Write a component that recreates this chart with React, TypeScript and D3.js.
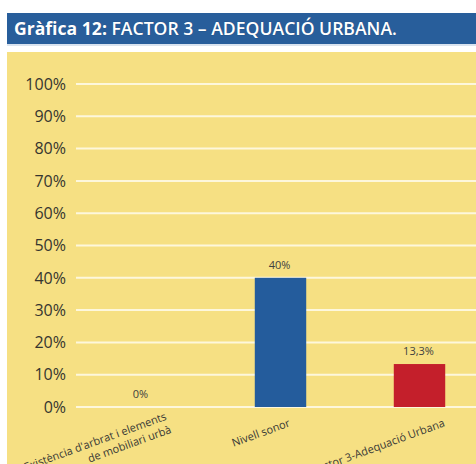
import React, { useEffect, useRef } from "react";
import * as d3 from "d3";

const categories: string[][] = [
  ["Existència d'arbrat i elements", "de mobiliari urbà"],
  ["Nivell sonor"],
  ["Factor 3-Adequació Urbana"],
];
const values: number[] = [0, 40, 13.3];
const barColors: string[] = ["#245c9c", "#245c9c", "#c41f2b"];
const yTicks: number[] = [0, 10, 20, 30, 40, 50, 60, 70, 80, 90, 100];
const titleBold = "Gràfica 12:";
const titleRest = " FACTOR 3 – ADEQUACIÓ URBANA.";

const W = 476;
const H = 464;

const fmtVal = (v: number) =>
  (Number.isInteger(v) ? String(v) : v.toFixed(1).replace(".", ",")) + "%";

export default function App() {
  const ref = useRef<SVGSVGElement | null>(null);

  useEffect(() => {
    const svg = d3.select(ref.current);
    svg.selectAll("*").remove();
    const font = "'Open Sans', 'Noto Sans', sans-serif";

    const panel = { x: 7, y: 52, w: W - 7, h: H - 52 };
    svg
      .append("defs")
      .append("clipPath")
      .attr("id", "pclip")
      .append("rect")
      .attr("x", panel.x)
      .attr("y", panel.y)
      .attr("width", panel.w)
      .attr("height", panel.h);

    // title bar
    svg.append("rect").attr("x", 7).attr("y", 13).attr("width", W - 7).attr("height", 31).attr("fill", "#285e9b");
    svg.append("rect").attr("x", 7).attr("y", 44).attr("width", W - 7).attr("height", 2).attr("fill", "#d9e3ef");
    const t = svg
      .append("text")
      .attr("x", 14)
      .attr("y", 35)
      .attr("fill", "#ffffff")
      .attr("font-family", font)
      .attr("font-size", 20)
      .style("paint-order", "stroke")
      .attr("stroke", "#1e4a7c")
      .attr("stroke-width", 0.6);
    t.append("tspan").attr("font-weight", 700).text(titleBold);
    t.append("tspan").attr("font-weight", 600).text(titleRest);
    const tl = (t.node() as SVGTextElement).getComputedTextLength();
    if (tl > 0) t.attr("font-size", (20 * 383) / tl);

    svg.append("rect").attr("x", panel.x).attr("y", panel.y).attr("width", panel.w).attr("height", panel.h).attr("fill", "#f6e083");

    const g = svg.append("g").attr("clip-path", "url(#pclip)");

    const y = d3.scaleLinear().domain([0, 100]).range([407, 84]);
    const x = d3
      .scaleBand<number>()
      .domain(categories.map((_, i) => i))
      .range([72, 489])
      .paddingInner(0.63)
      .paddingOuter(0.315);

    g.selectAll("line.grid")
      .data(yTicks)
      .join("line")
      .attr("x1", 76)
      .attr("x2", W)
      .attr("y1", (d) => y(d))
      .attr("y2", (d) => y(d))
      .attr("stroke", "#fdf7dc")
      .attr("stroke-width", 2);

    g.selectAll("text.tick")
      .data(yTicks)
      .join("text")
      .attr("x", 66)
      .attr("y", (d) => y(d))
      .attr("dy", "0.36em")
      .attr("text-anchor", "end")
      .attr("font-family", font)
      .attr("font-size", 16)
      .attr("fill", "#35352f")
      .text((d) => d + "%");

    g.selectAll("rect.bar")
      .data(values)
      .join("rect")
      .attr("x", (_, i) => x(i)!)
      .attr("width", x.bandwidth())
      .attr("y", (d) => y(d))
      .attr("height", (d) => y(0) - y(d))
      .attr("fill", (_, i) => barColors[i]);

    g.selectAll("text.val")
      .data(values)
      .join("text")
      .attr("x", (_, i) => x(i)! + x.bandwidth() / 2 - 1)
      .attr("y", (d) => y(d) - 9)
      .attr("text-anchor", "middle")
      .attr("font-family", font)
      .attr("font-size", 11)
      .attr("fill", "#404040")
      .text((d) => fmtVal(d));

    categories.forEach((lines, i) => {
      const cx = x(i)! + x.bandwidth() / 2;
      const txt = g
        .append("text")
        .attr("text-anchor", "end")
        .attr("font-family", font)
        .attr("font-size", 11)
        .attr("fill", "#3a3a36");
      lines.forEach((ln, j) => {
        txt
          .append("tspan")
          .attr("x", 0)
          .attr("y", (j - (lines.length - 1) / 2) * 14)
          .text(ln);
      });
      let maxLen = 0;
      txt.selectAll<SVGTSpanElement, unknown>("tspan").each(function () {
        maxLen = Math.max(maxLen, this.getComputedTextLength());
      });
      const ax = cx + 0.2 * maxLen - 2;
      txt.attr("transform", `translate(${ax},426) rotate(-20)`);
    });
  }, []);

  return (
    <svg
      ref={ref}
      width={W}
      height={H}
      style={{ position: "absolute", left: 0, top: 0, background: "#ffffff" }}
    />
  );
}
